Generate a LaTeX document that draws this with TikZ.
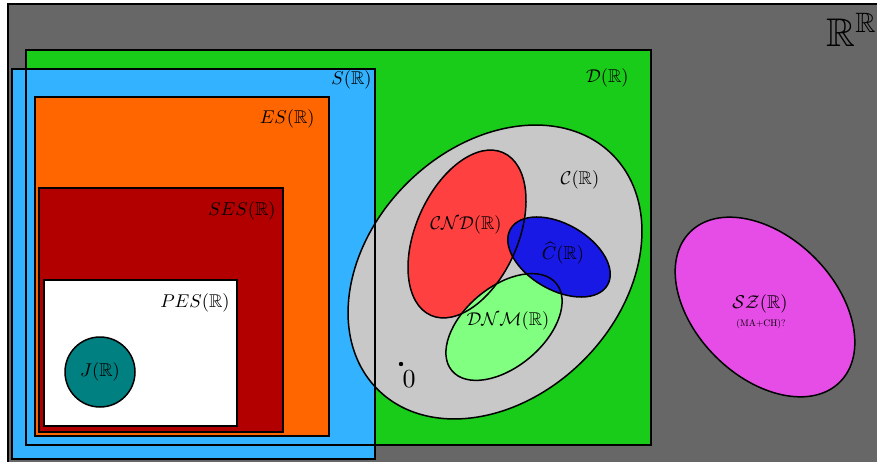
\documentclass[tikz,border=0pt]{standalone}
\usepackage{amsmath,amssymb}
\definecolor{bggray}{RGB}{103,103,103}
\definecolor{dgreen}{RGB}{25,204,25}
\definecolor{sblue}{RGB}{51,178,255}
\definecolor{esorange}{RGB}{255,102,0}
\definecolor{sesred}{RGB}{178,0,0}
\definecolor{jteal}{RGB}{0,128,128}
\definecolor{cgray}{RGB}{200,200,200}
\definecolor{cndred}{RGB}{255,64,64}
\definecolor{chatblue}{RGB}{25,25,230}
\definecolor{dnmgreen}{RGB}{128,255,128}
\definecolor{szmag}{RGB}{230,76,230}
\begin{document}
\begin{tikzpicture}[x=1pt,y=-1pt,
  border/.style={draw=black,line width=1.5pt},
  lbl/.style={inner sep=0pt,scale=1.85},
  lble/.style={lbl,anchor=east}]
\useasboundingbox (0,0) rectangle (877,462);
\clip (0,0) rectangle (877,462);
\fill[white] (0,0) rectangle (877,462);
% fills
\fill[bggray] (8,4) rectangle (890,470);
\fill[dgreen] (26,50) rectangle (651,445);
\fill[sblue] (12,69) rectangle (375,459);
\fill[esorange] (35,97) rectangle (329,436);
\fill[sesred] (39,188) rectangle (283,432);
\fill[white] (44,280) rectangle (237,426);
\fill[jteal] (100,372) circle (35pt);
\fill[cgray] (495,272) ellipse [x radius=166pt, y radius=125pt, rotate=45];
\fill[cndred] (467,234) ellipse [x radius=89pt, y radius=51pt, rotate=66];
\fill[dnmgreen] (504,327) ellipse [x radius=68pt, y radius=40pt, rotate=40];
\fill[chatblue] (559,257) ellipse [x radius=56pt, y radius=33pt, rotate=-30];
\fill[szmag] (765,307) ellipse [x radius=106pt, y radius=70pt, rotate=-45];
% borders
\draw[border] (8,470) -- (8,4) -- (890,4);
\draw[border] (26,50) rectangle (651,445);
\draw[draw=black,line width=2.4pt] (12,69) rectangle (375,459);
\draw[border] (35,97) rectangle (329,436);
\draw[border] (39,188) rectangle (283,432);
\draw[border] (44,280) rectangle (237,426);
\draw[border] (100,372) circle (35pt);
\draw[border] (495,272) ellipse [x radius=166pt, y radius=125pt, rotate=45];
\draw[border] (467,234) ellipse [x radius=89pt, y radius=51pt, rotate=66];
\draw[border] (504,327) ellipse [x radius=68pt, y radius=40pt, rotate=40];
\draw[border] (559,257) ellipse [x radius=56pt, y radius=33pt, rotate=-30];
\draw[border] (765,307) ellipse [x radius=106pt, y radius=70pt, rotate=-45];
\fill (401,364) circle (2.2pt);
% labels
\node[inner sep=0pt,scale=4.0] (rr) at (852,30) {$\mathbb{R}^{\mathbb{R}}$};
\node[lble] (sl) at (372,80) {$S(\mathbb{R})$};
\node[lble] (dl) at (629,78) {$\mathcal{D}(\mathbb{R})$};
\node[lble] (esl) at (315,119) {$ES(\mathbb{R})$};
\node[lble] (sesl) at (276,211) {$SES(\mathbb{R})$};
\node[lble] (pesl) at (230,303) {$PES(\mathbb{R})$};
\node[lbl] (jl) at (100,372) {$J(\mathbb{R})$};
\node[lbl] (cl) at (580,180) {$\mathcal{C}(\mathbb{R})$};
\node[lbl] (cndl) at (466,225) {$\mathcal{CND}(\mathbb{R})$};
\node[lbl] (chl) at (563,253) {$\widehat{C}(\mathbb{R})$};
\node[lbl] (dnml) at (508,321) {$\mathcal{DNM}(\mathbb{R})$};
\node[lbl] (szl) at (760,304) {$\mathcal{SZ}(\mathbb{R})$};
\node[inner sep=0pt,scale=0.95] (mach) at (761,324) {(MA+CH)?};
\node[inner sep=0pt,scale=2.6] (zero) at (409,379) {$0$};
\end{tikzpicture}
\end{document}
